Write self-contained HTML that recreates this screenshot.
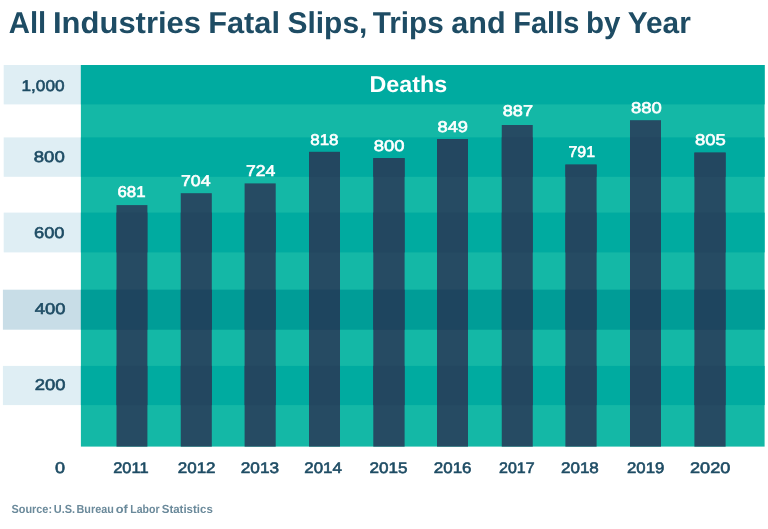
<!DOCTYPE html>
<html lang="en"><head><meta charset="utf-8"><title>All Industries Fatal Slips, Trips and Falls by Year</title>
<style>
html,body{margin:0;padding:0;background:#fff;overflow:hidden;}
svg{display:block;will-change:transform;text-rendering:geometricPrecision;font-family:"Liberation Sans",Arial,sans-serif;font-weight:bold;}
</style></head><body>
<svg width="768" height="529" viewBox="0 0 768 529">
<rect width="768" height="529" fill="#fff"/>
<rect x="3.7" y="65" width="77.70" height="39.40" fill="#dfeef4"/>
<rect x="3.7" y="137.4" width="77.70" height="39.40" fill="#dfeef4"/>
<rect x="3.7" y="212.6" width="77.70" height="39.80" fill="#dfeef4"/>
<rect x="2.9" y="289.7" width="78.50" height="40.00" fill="#c8dde7"/>
<rect x="2.9" y="365.9" width="78.50" height="39.20" fill="#dfeef4"/>
<rect x="80.9" y="65" width="683.7" height="381.6" fill="#14b8a6"/>
<rect x="80.9" y="65" width="683.7" height="39.40" fill="#00aba0"/>
<rect x="80.9" y="137.4" width="683.7" height="39.40" fill="#00aba0"/>
<rect x="80.9" y="212.6" width="683.7" height="39.80" fill="#00aba0"/>
<rect x="80.9" y="289.7" width="683.7" height="40.00" fill="#00aba0"/>
<rect x="80.9" y="365.9" width="683.7" height="39.20" fill="#00aba0"/>
<rect x="116.5" y="205.1" width="30.90" height="241.50" fill="#264b63"/>
<rect x="180.75" y="193.2" width="31.05" height="253.40" fill="#264b63"/>
<rect x="244.6" y="183.4" width="31.10" height="263.20" fill="#264b63"/>
<rect x="309" y="151.9" width="31.00" height="294.70" fill="#264b63"/>
<rect x="373.3" y="158.1" width="31.30" height="288.50" fill="#264b63"/>
<rect x="437" y="139" width="31.00" height="307.60" fill="#264b63"/>
<rect x="501.75" y="125" width="31.00" height="321.60" fill="#264b63"/>
<rect x="565.4" y="164.6" width="31.20" height="282.00" fill="#264b63"/>
<rect x="630" y="120.2" width="31.00" height="326.40" fill="#264b63"/>
<rect x="694.4" y="152.6" width="31.20" height="294.00" fill="#264b63"/>
<rect x="116.5" y="212.6" width="30.90" height="39.80" fill="#234760"/>
<rect x="116.5" y="289.7" width="30.90" height="40.00" fill="#234760"/>
<rect x="116.5" y="365.9" width="30.90" height="39.20" fill="#234760"/>
<rect x="180.75" y="212.6" width="31.05" height="39.80" fill="#234760"/>
<rect x="180.75" y="289.7" width="31.05" height="40.00" fill="#234760"/>
<rect x="180.75" y="365.9" width="31.05" height="39.20" fill="#234760"/>
<rect x="244.6" y="212.6" width="31.10" height="39.80" fill="#234760"/>
<rect x="244.6" y="289.7" width="31.10" height="40.00" fill="#234760"/>
<rect x="244.6" y="365.9" width="31.10" height="39.20" fill="#234760"/>
<rect x="309" y="151.9" width="31.00" height="24.90" fill="#234760"/>
<rect x="309" y="212.6" width="31.00" height="39.80" fill="#234760"/>
<rect x="309" y="289.7" width="31.00" height="40.00" fill="#234760"/>
<rect x="309" y="365.9" width="31.00" height="39.20" fill="#234760"/>
<rect x="373.3" y="158.1" width="31.30" height="18.70" fill="#234760"/>
<rect x="373.3" y="212.6" width="31.30" height="39.80" fill="#234760"/>
<rect x="373.3" y="289.7" width="31.30" height="40.00" fill="#234760"/>
<rect x="373.3" y="365.9" width="31.30" height="39.20" fill="#234760"/>
<rect x="437" y="139" width="31.00" height="37.80" fill="#234760"/>
<rect x="437" y="212.6" width="31.00" height="39.80" fill="#234760"/>
<rect x="437" y="289.7" width="31.00" height="40.00" fill="#234760"/>
<rect x="437" y="365.9" width="31.00" height="39.20" fill="#234760"/>
<rect x="501.75" y="137.4" width="31.00" height="39.40" fill="#234760"/>
<rect x="501.75" y="212.6" width="31.00" height="39.80" fill="#234760"/>
<rect x="501.75" y="289.7" width="31.00" height="40.00" fill="#234760"/>
<rect x="501.75" y="365.9" width="31.00" height="39.20" fill="#234760"/>
<rect x="565.4" y="164.6" width="31.20" height="12.20" fill="#234760"/>
<rect x="565.4" y="212.6" width="31.20" height="39.80" fill="#234760"/>
<rect x="565.4" y="289.7" width="31.20" height="40.00" fill="#234760"/>
<rect x="565.4" y="365.9" width="31.20" height="39.20" fill="#234760"/>
<rect x="630" y="137.4" width="31.00" height="39.40" fill="#234760"/>
<rect x="630" y="212.6" width="31.00" height="39.80" fill="#234760"/>
<rect x="630" y="289.7" width="31.00" height="40.00" fill="#234760"/>
<rect x="630" y="365.9" width="31.00" height="39.20" fill="#234760"/>
<rect x="694.4" y="152.6" width="31.20" height="24.20" fill="#234760"/>
<rect x="694.4" y="212.6" width="31.20" height="39.80" fill="#234760"/>
<rect x="694.4" y="289.7" width="31.20" height="40.00" fill="#234760"/>
<rect x="694.4" y="365.9" width="31.20" height="39.20" fill="#234760"/>
<rect x="80.9" y="289.7" width="683.7" height="40" fill="#003a5c" fill-opacity="0.12"/>
<text y="33.0" font-size="30.2" fill="#1e4c64"><tspan x="8.75" textLength="37.47" lengthAdjust="spacingAndGlyphs">All</tspan> <tspan x="53.00" textLength="148.08" lengthAdjust="spacingAndGlyphs">Industries</tspan> <tspan x="208.25" textLength="71.75" lengthAdjust="spacingAndGlyphs">Fatal</tspan> <tspan x="287.50" textLength="79.86" lengthAdjust="spacingAndGlyphs">Slips,</tspan> <tspan x="372.75" textLength="71.03" lengthAdjust="spacingAndGlyphs">Trips</tspan> <tspan x="451.25" textLength="54.41" lengthAdjust="spacingAndGlyphs">and</tspan> <tspan x="513.25" textLength="66.14" lengthAdjust="spacingAndGlyphs">Falls</tspan> <tspan x="586.00" textLength="34.38" lengthAdjust="spacingAndGlyphs">by</tspan> <tspan x="627.75" textLength="63.02" lengthAdjust="spacingAndGlyphs">Year</tspan></text>
<text x="369.50" y="91.9" font-size="22.8" fill="#fff" textLength="77.58" lengthAdjust="spacingAndGlyphs">Deaths</text>
<text x="117.50" y="196.9" font-size="15.5" fill="#fff" textLength="28.04" lengthAdjust="spacingAndGlyphs" style="font-weight:normal;stroke:#fff;stroke-width:0.6px">681</text>
<text x="181.00" y="185.5" font-size="15.5" fill="#fff" textLength="29.52" lengthAdjust="spacingAndGlyphs" style="font-weight:normal;stroke:#fff;stroke-width:0.6px">704</text>
<text x="246.00" y="175.5" font-size="15.5" fill="#fff" textLength="29.27" lengthAdjust="spacingAndGlyphs" style="font-weight:normal;stroke:#fff;stroke-width:0.6px">724</text>
<text x="310.25" y="144.5" font-size="15.5" fill="#fff" textLength="28.29" lengthAdjust="spacingAndGlyphs" style="font-weight:normal;stroke:#fff;stroke-width:0.6px">818</text>
<text x="373.75" y="150.5" font-size="15.5" fill="#fff" textLength="30.77" lengthAdjust="spacingAndGlyphs" style="font-weight:normal;stroke:#fff;stroke-width:0.6px">800</text>
<text x="437.55" y="131.8" font-size="15.5" fill="#fff" textLength="30.48" lengthAdjust="spacingAndGlyphs" style="font-weight:normal;stroke:#fff;stroke-width:0.6px">849</text>
<text x="502.75" y="115.9" font-size="15.5" fill="#fff" textLength="30.29" lengthAdjust="spacingAndGlyphs" style="font-weight:normal;stroke:#fff;stroke-width:0.6px">887</text>
<text x="568.50" y="157.0" font-size="15.5" fill="#fff" textLength="26.53" lengthAdjust="spacingAndGlyphs" style="font-weight:normal;stroke:#fff;stroke-width:0.6px">791</text>
<text x="631.00" y="113.4" font-size="15.5" fill="#fff" textLength="30.78" lengthAdjust="spacingAndGlyphs" style="font-weight:normal;stroke:#fff;stroke-width:0.6px">880</text>
<text x="695.00" y="144.6" font-size="15.5" fill="#fff" textLength="30.77" lengthAdjust="spacingAndGlyphs" style="font-weight:normal;stroke:#fff;stroke-width:0.6px">805</text>
<text x="21.50" y="91.4" font-size="15.5" fill="#1e4c64" textLength="43.04" lengthAdjust="spacingAndGlyphs" style="font-weight:normal;stroke:#1e4c64;stroke-width:0.6px">1,000</text>
<text x="33.75" y="161.9" font-size="15.5" fill="#1e4c64" textLength="31.03" lengthAdjust="spacingAndGlyphs" style="font-weight:normal;stroke:#1e4c64;stroke-width:0.6px">800</text>
<text x="34.00" y="238.3" font-size="15.5" fill="#1e4c64" textLength="30.53" lengthAdjust="spacingAndGlyphs" style="font-weight:normal;stroke:#1e4c64;stroke-width:0.6px">600</text>
<text x="34.75" y="314.0" font-size="15.5" fill="#1e4c64" textLength="30.76" lengthAdjust="spacingAndGlyphs" style="font-weight:normal;stroke:#1e4c64;stroke-width:0.6px">400</text>
<text x="34.75" y="390.0" font-size="15.5" fill="#1e4c64" textLength="30.77" lengthAdjust="spacingAndGlyphs" style="font-weight:normal;stroke:#1e4c64;stroke-width:0.6px">200</text>
<text x="55.00" y="473.2" font-size="15.5" fill="#1e4c64" textLength="10.03" lengthAdjust="spacingAndGlyphs" style="font-weight:normal;stroke:#1e4c64;stroke-width:0.6px">0</text>
<text x="113.25" y="473.3" font-size="15.3" fill="#1e4c64" textLength="35.28" lengthAdjust="spacingAndGlyphs" style="font-weight:normal;stroke:#1e4c64;stroke-width:0.6px">2011</text>
<text x="177.75" y="473.3" font-size="15.3" fill="#1e4c64" textLength="37.78" lengthAdjust="spacingAndGlyphs" style="font-weight:normal;stroke:#1e4c64;stroke-width:0.6px">2012</text>
<text x="240.75" y="473.3" font-size="15.3" fill="#1e4c64" textLength="38.28" lengthAdjust="spacingAndGlyphs" style="font-weight:normal;stroke:#1e4c64;stroke-width:0.6px">2013</text>
<text x="304.25" y="473.3" font-size="15.3" fill="#1e4c64" textLength="37.51" lengthAdjust="spacingAndGlyphs" style="font-weight:normal;stroke:#1e4c64;stroke-width:0.6px">2014</text>
<text x="369.50" y="473.3" font-size="15.3" fill="#1e4c64" textLength="38.03" lengthAdjust="spacingAndGlyphs" style="font-weight:normal;stroke:#1e4c64;stroke-width:0.6px">2015</text>
<text x="433.75" y="473.3" font-size="15.3" fill="#1e4c64" textLength="37.77" lengthAdjust="spacingAndGlyphs" style="font-weight:normal;stroke:#1e4c64;stroke-width:0.6px">2016</text>
<text x="499.00" y="473.3" font-size="15.3" fill="#1e4c64" textLength="35.53" lengthAdjust="spacingAndGlyphs" style="font-weight:normal;stroke:#1e4c64;stroke-width:0.6px">2017</text>
<text x="561.00" y="473.3" font-size="15.3" fill="#1e4c64" textLength="37.78" lengthAdjust="spacingAndGlyphs" style="font-weight:normal;stroke:#1e4c64;stroke-width:0.6px">2018</text>
<text x="627.00" y="473.3" font-size="15.3" fill="#1e4c64" textLength="37.28" lengthAdjust="spacingAndGlyphs" style="font-weight:normal;stroke:#1e4c64;stroke-width:0.6px">2019</text>
<text x="690.00" y="473.3" font-size="15.3" fill="#1e4c64" textLength="40.27" lengthAdjust="spacingAndGlyphs" style="font-weight:normal;stroke:#1e4c64;stroke-width:0.6px">2020</text>
<text y="512.7" font-size="11.7" fill="#6b8a9b"><tspan x="11.50" textLength="40.55" lengthAdjust="spacingAndGlyphs">Source:</tspan> <tspan x="53.75" textLength="21.33" lengthAdjust="spacingAndGlyphs">U.S.</tspan> <tspan x="76.50" textLength="37.31" lengthAdjust="spacingAndGlyphs">Bureau</tspan> <tspan x="115.75" textLength="12.02" lengthAdjust="spacingAndGlyphs">of</tspan> <tspan x="130.25" textLength="29.28" lengthAdjust="spacingAndGlyphs">Labor</tspan> <tspan x="161.75" textLength="51.02" lengthAdjust="spacingAndGlyphs">Statistics</tspan></text>
</svg></body></html>
